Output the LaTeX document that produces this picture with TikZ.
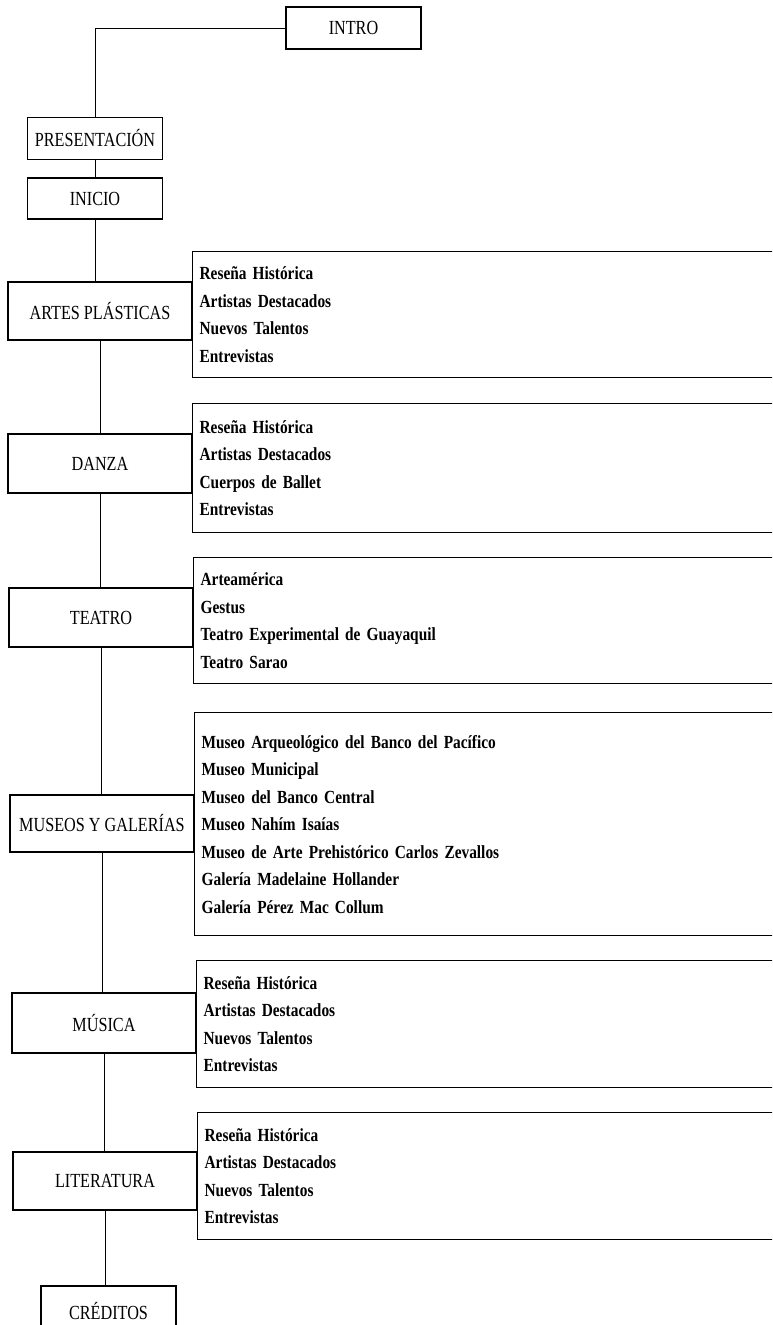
\documentclass[tikz,border=0pt]{standalone}
\usepackage{fontspec}
\newfontfamily\boxfont[FakeStretch=0.81]{Liberation Serif}
\newfontfamily\listfont[FakeStretch=0.83]{Liberation Serif}
\newcommand\myboxfont{\boxfont\fontsize{20}{23}\selectfont\spaceskip=4pt\relax}
\newcommand\mylistfont{\listfont\bfseries\fontsize{18.5}{27.5}\selectfont\spaceskip=3.6pt plus 1pt\relax}
\begin{document}
\begin{tikzpicture}[x=1pt,y=-1pt,
  mainbox/.style={draw, line width=1.3pt, rectangle, inner sep=0pt,
    minimum width=184pt, minimum height=58pt, font=\myboxfont},
  smallbox/.style={mainbox, minimum width=135pt, minimum height=42pt},
  listbox/.style={draw, line width=1.3pt, rectangle, anchor=north west,
    inner xsep=7pt, inner ysep=0pt, text width=570pt, align=left,
    font=\mylistfont},
  link/.style={draw, line width=1pt}]
\useasboundingbox (0,0) rectangle (772,1325);
\clip (0,0) rectangle (772,1325);

\node[smallbox] (intro) at (353.5,28) {INTRO};
\node[smallbox] (pres) at (95,138.5) {PRESENTACIÓN};
\node[smallbox, minimum height=41pt] (inicio) at (95,198.5) {INICIO};
\node[mainbox] (artes) at (100,311) {ARTES PLÁSTICAS};
\node[mainbox, minimum height=59pt] (danza) at (100,463.5) {DANZA};
\node[mainbox, minimum height=59pt] (teatro) at (101,617.5) {TEATRO};
\node[mainbox, minimum height=57pt] (museos) at (102,823.5) {MUSEOS Y GALERÍAS};
\node[mainbox, minimum height=60pt] (musica) at (104,1023) {MÚSICA};
\node[mainbox] (lit) at (105,1181) {LITERATURA};
\node[smallbox, minimum height=50pt] (cred) at (108.5,1311) {CRÉDITOS};

\node[listbox, minimum height=126pt] (artesl) at (192,251)
  {Reseña Histórica\\Artistas Destacados\\Nuevos Talentos\\Entrevistas};
\node[listbox, minimum height=129pt] (danzal) at (192,403)
  {Reseña Histórica\\Artistas Destacados\\Cuerpos de Ballet\\Entrevistas};
\node[listbox, minimum height=126pt] (teatrol) at (193,557)
  {Arteamérica\\Gestus\\Teatro Experimental de Guayaquil\\Teatro Sarao};
\node[listbox, minimum height=223pt] (museosl) at (194,712)
  {Museo Arqueológico del Banco del Pacífico\\Museo Municipal\\Museo del Banco Central\\Museo Nahím Isaías\\Museo de Arte Prehistórico Carlos Zevallos\\Galería Madelaine Hollander\\Galería Pérez Mac Collum};
\node[listbox, minimum height=127pt] (musical) at (196,960)
  {Reseña Histórica\\Artistas Destacados\\Nuevos Talentos\\Entrevistas};
\node[listbox, minimum height=127pt] (litl) at (197,1112)
  {Reseña Histórica\\Artistas Destacados\\Nuevos Talentos\\Entrevistas};

\draw[link] (intro.west) -| (pres.north);
\draw[link] (pres.south) -- (pres.south |- inicio.north);
\draw[link] (inicio.south) -- (inicio.south |- artes.north);
\draw[link] (artes.south) -- (artes.south |- danza.north);
\draw[link] (danza.south) -- (danza.south |- teatro.north);
\draw[link] (teatro.south) -- (teatro.south |- museos.north);
\draw[link] (museos.south) -- (museos.south |- musica.north);
\draw[link] (musica.south) -- (musica.south |- lit.north);
\draw[link] (lit.south) -- (lit.south |- cred.north);
\end{tikzpicture}
\end{document}
